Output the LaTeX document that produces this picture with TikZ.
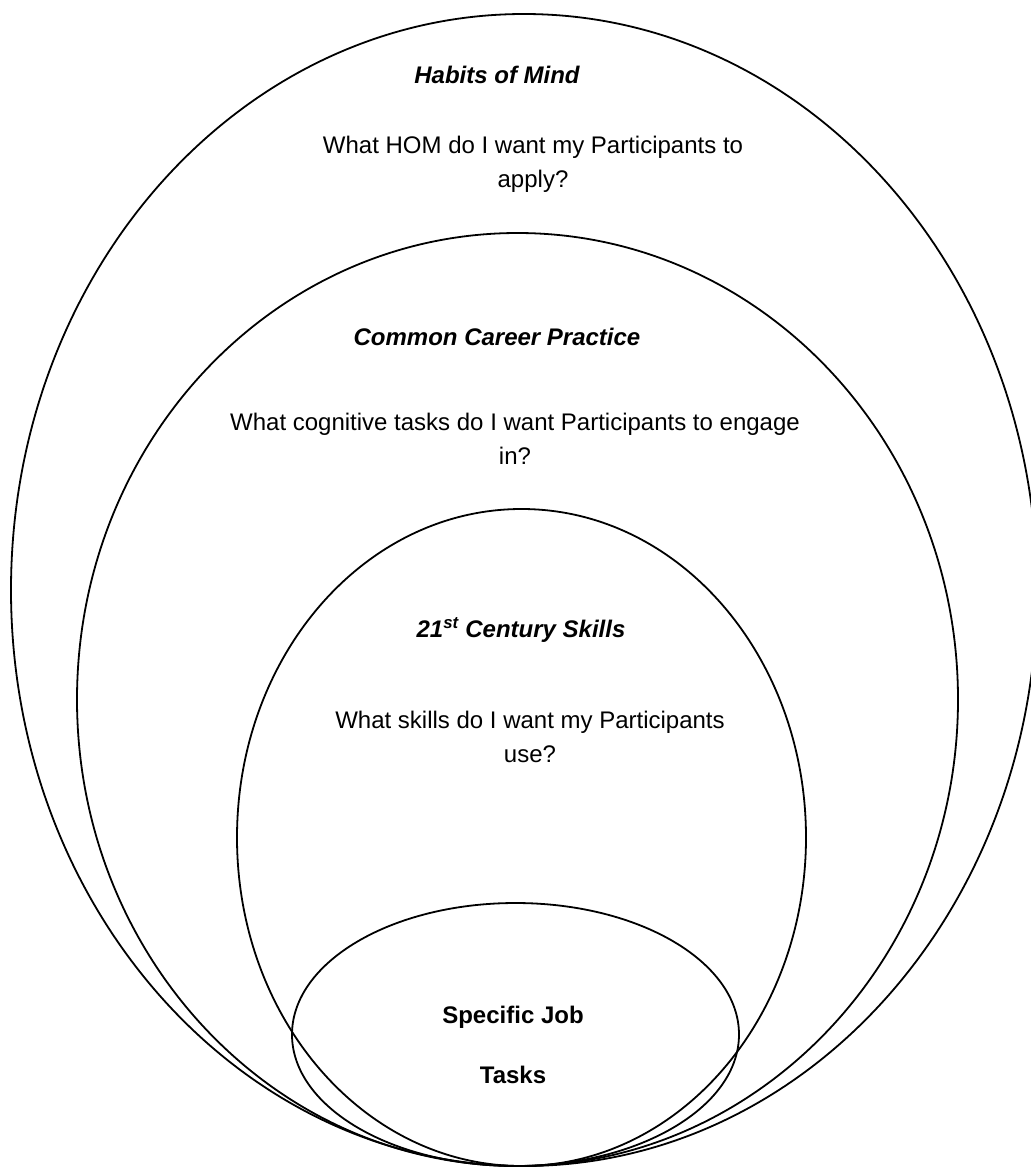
\documentclass[tikz,border=0pt]{standalone}
\usepackage{fontspec}
\setmainfont{Liberation Sans}
\usetikzlibrary{shapes.geometric}
\begin{document}
\begin{tikzpicture}[x=1pt,y=-1pt,
  ring/.style={ellipse,draw=black,line width=1.8pt,inner sep=0pt,outer sep=0pt},
  title/.style={font=\fontsize{24}{34}\selectfont\bfseries\itshape,inner sep=0pt},
  body/.style={font=\fontsize{24}{34}\selectfont,align=center,inner sep=0pt},
  core/.style={font=\fontsize{24}{34}\selectfont\bfseries,inner sep=0pt}]
\useasboundingbox (0,0) rectangle (1031,1168);
\clip (0,0) rectangle (1031,1168);
\node[ring,minimum width=1026pt,minimum height=1152pt] (hom) at (524,590) {};
\node[ring,minimum width=881pt,minimum height=933pt] (ccp) at (517.5,699.5) {};
\node[ring,minimum width=569pt,minimum height=657pt] (cs) at (521.5,837.5) {};
\node[ring,minimum width=447pt,minimum height=263pt] (sjt) at (515.5,1034.5) {};
\node[title] (t1) at (497,75) {Habits of Mind};
\node[body] (q1) at (533,164) {What HOM do I want my Participants to\\apply?};
\node[title] (t2) at (497,337) {Common Career Practice};
\node[body] (q2) at (515,439) {What cognitive tasks do I want Participants to engage\\in?};
\node[title] (t3) at (521,630) {21\textsuperscript{st} Century Skills};
\node[body] (q3) at (530,737) {What skills do I want my Participants\\use?};
\node[core] (c1) at (513,1017) {Specific Job};
\node[core] (c2) at (513,1075) {Tasks};
\end{tikzpicture}
\end{document}
